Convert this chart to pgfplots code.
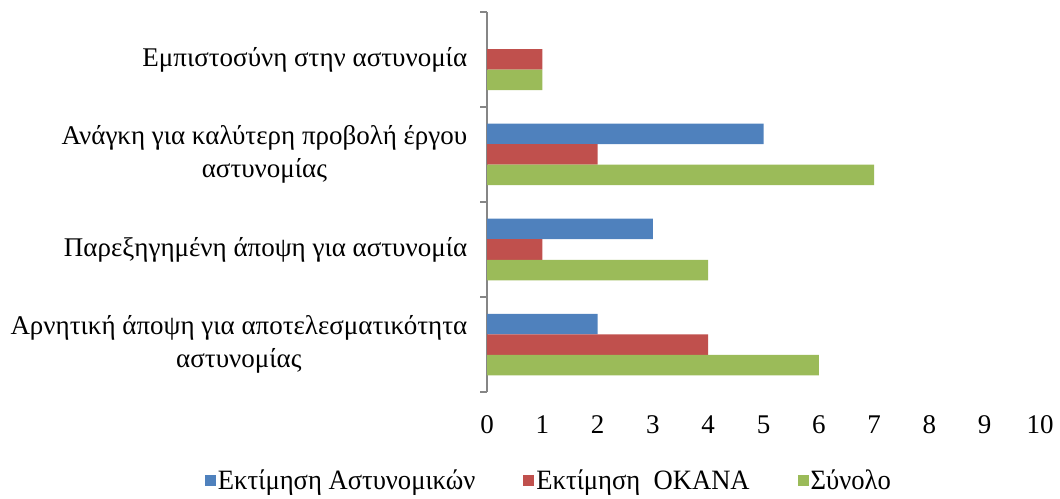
\documentclass[border=0pt]{standalone}
\usepackage{fontspec}
\setmainfont{Liberation Serif}
\newfontfamily\legfont[FakeStretch=0.95]{Liberation Serif}
\usepackage{pgfplots}
\pgfplotsset{compat=1.18}
\definecolor{cblue}{HTML}{4F81BD}
\definecolor{cred}{HTML}{C0504D}
\definecolor{cgreen}{HTML}{9BBB59}
\definecolor{axgray}{HTML}{868686}
\begin{document}
\begin{tikzpicture}[x=1pt,y=1pt]
\useasboundingbox (0,0) rectangle (1060,498);
\begin{axis}[
  at={(487pt,106pt)}, anchor=south west,
  scale only axis, width=553pt, height=380pt,
  xmin=0, xmax=10, ymin=-0.5, ymax=3.5,
  xbar, bar width=20.5pt,
  axis lines*=left,
  x axis line style={draw=none},
  y axis line style={draw=axgray, line width=1.2pt},
  xtick={0,1,...,10},
  major x tick style={draw=none},
  ytick={0,1,2,3},
  yticklabels={{Αρνητική άποψη για αποτελεσματικότητα\\αστυνομίας},{Παρεξηγημένη άποψη για αστυνομία},{Ανάγκη για καλύτερη προβολή έργου\\αστυνομίας},{Εμπιστοσύνη στην αστυνομία}},
  major y tick style={draw=none},
  minor ytick={-0.5,0.5,1.5,2.5,3.5},
  minor tick length=7pt,
  tick align=outside,
  minor y tick style={draw=axgray, line width=1.2pt},
  yticklabel style={align=center, font=\fontsize{27}{33}\selectfont, xshift=-12pt},
  xticklabel style={font=\fontsize{27}{32}\selectfont, yshift=-16pt},
  /pgf/number format/assume math mode=true,
  legend style={at={(0.112,-0.232)}, anchor=center, draw=none, fill=none,
    legend columns=3, font=\legfont\fontsize{28}{32}\selectfont,
    /tikz/every even column/.append style={column sep=46pt},
    /tikz/every odd column/.append style={column sep=0pt}},
  legend image code/.code={\fill[#1] (0pt,-5.5pt) rectangle (11pt,5.5pt);},
]
\addplot[fill=cblue, draw=none, bar shift=20.5pt] coordinates {(2,0) (3,1) (5,2)};
\addplot[fill=cred, draw=none, bar shift=0pt] coordinates {(4,0) (1,1) (2,2) (1,3)};
\addplot[fill=cgreen, draw=none, bar shift=-20.5pt] coordinates {(6,0) (4,1) (7,2) (1,3)};
\legend{Εκτίμηση Αστυνομικών, Εκτίμηση\ \ ΟΚΑΝΑ, Σύνολο}
\end{axis}
\end{tikzpicture}
\end{document}
